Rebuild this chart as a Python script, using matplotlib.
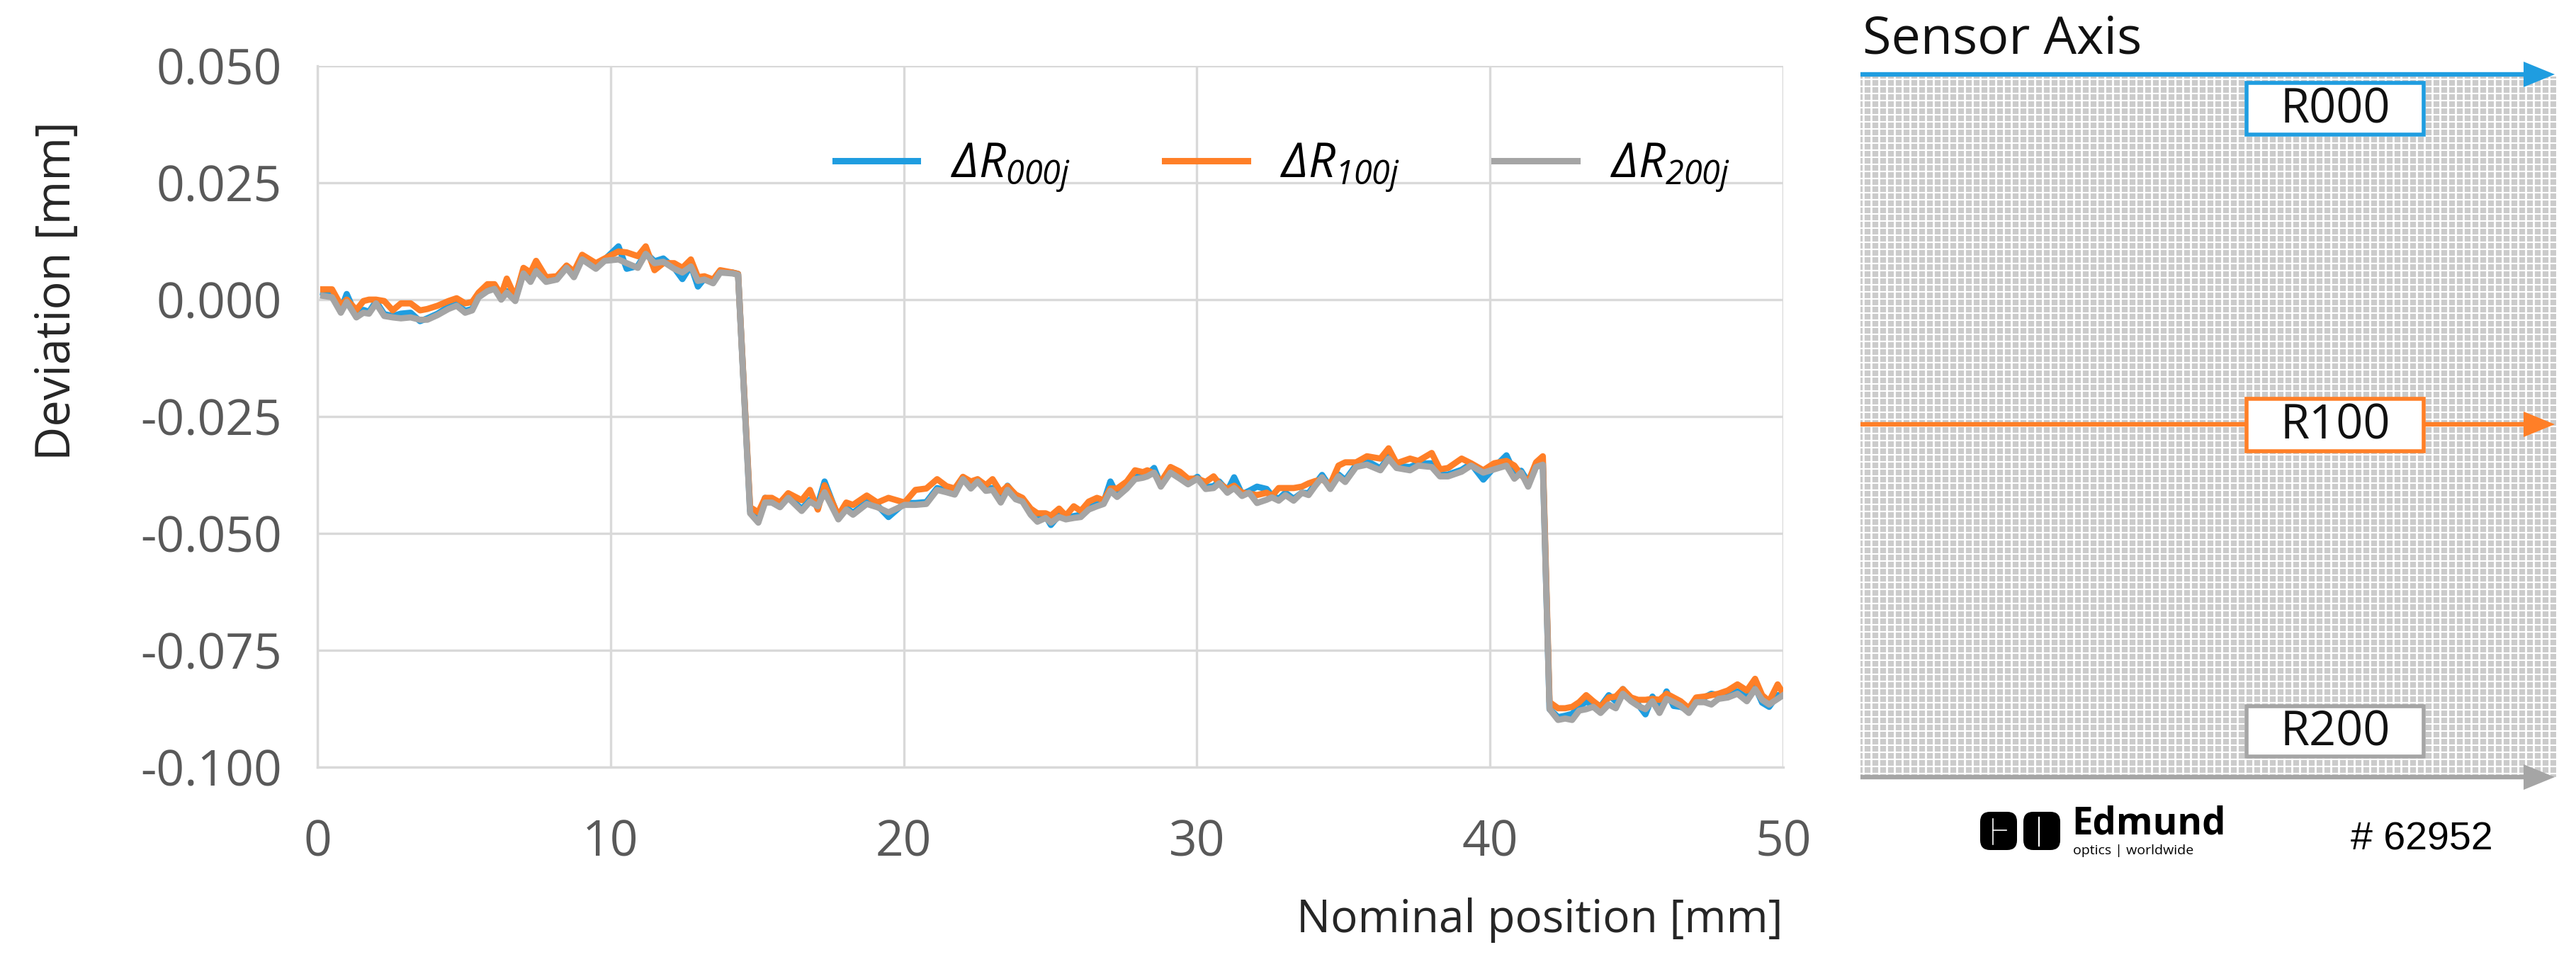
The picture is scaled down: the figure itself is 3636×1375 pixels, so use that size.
import numpy as np
import matplotlib
matplotlib.use("Agg")
import matplotlib.pyplot as plt
from matplotlib.patches import Rectangle, Polygon, FancyBboxPatch
from matplotlib.ticker import FuncFormatter

plt.rcParams["font.family"] = ["Open Sans", "DejaVu Sans"]
# only the legend labels use mathtext, and they are italic throughout
plt.rcParams["mathtext.fontset"] = "custom"
plt.rcParams["mathtext.it"] = "Open Sans:italic"
plt.rcParams["mathtext.rm"] = "Open Sans:italic"

# nominal position [mm], shared by the three traces
pos = [0.2, 0.5, 0.8, 1.0, 1.33, 1.57, 1.76, 2.0, 2.28, 2.57,
       2.85, 3.18, 3.5, 3.75, 4.1, 4.47, 4.75, 5.04, 5.28, 5.5,
       5.8, 6.04, 6.27, 6.46, 6.75, 7.03, 7.27, 7.46, 7.8, 8.17,
       8.5, 8.75, 9.03, 9.5, 9.8, 10.27, 10.55, 10.93, 11.2, 11.5,
       11.8, 12.17, 12.45, 12.74, 12.98, 13.2, 13.5, 13.74, 14.16, 14.35,
       14.76, 15.04, 15.27, 15.5, 15.78, 16.06, 16.52, 16.8, 17.07, 17.3,
       17.77, 18.04, 18.27, 18.74, 19.1, 19.48, 20.03, 20.4, 20.77, 21.14,
       21.46, 21.74, 22.02, 22.29, 22.52, 22.8, 23.03, 23.31, 23.54, 23.82,
       24.05, 24.33, 24.56, 24.84, 25.02, 25.3, 25.53, 25.8, 26.04, 26.31,
       26.59, 26.82, 27.05, 27.28, 27.61, 27.89, 28.16, 28.31, 28.54, 28.77,
       29.1, 29.42, 29.7, 30.02, 30.3, 30.57, 30.76, 31.04, 31.27, 31.54,
       31.78, 32.05, 32.38, 32.56, 32.79, 33.02, 33.3, 33.58, 33.81, 34.04,
       34.27, 34.55, 34.83, 35.06, 35.43, 35.8, 36.26, 36.54, 36.81, 37.27,
       37.55, 38.01, 38.29, 38.57, 39.03, 39.35, 39.77, 40.14, 40.56, 40.83,
       41.06, 41.3, 41.57, 41.8, 42.03, 42.32, 42.56, 42.8, 43.04, 43.28,
       43.52, 43.77, 44.05, 44.29, 44.53, 44.81, 45.05, 45.3, 45.54, 45.78,
       46.02, 46.26, 46.5, 46.78, 47.03, 47.31, 47.55, 47.79, 48.11, 48.44,
       48.76, 49.04, 49.28, 49.52, 49.81, 50.0]

# deviation [mm]
dev_r000 = [0.0015, 0.0012, -0.0022, 0.0012, -0.0035, -0.0022, -0.0026, -0.0004, -0.0031, -0.0035,
            -0.0030, -0.0028, -0.0046, -0.0040, -0.0030, -0.0015, -0.0010, -0.0024, -0.0020, 0.0008,
            0.0022, 0.0026, 0.0004, 0.0018, 0.0002, 0.0060, 0.0042, 0.0064, 0.0042, 0.0046,
            0.0070, 0.0052, 0.0090, 0.0070, 0.0086, 0.0114, 0.0066, 0.0072, 0.0100, 0.0082,
            0.0088, 0.0068, 0.0044, 0.0073, 0.0028, 0.0045, 0.0042, 0.0060, 0.0058, 0.0055,
            -0.0452, -0.0470, -0.0424, -0.0430, -0.0440, -0.0420, -0.0448, -0.0428, -0.0438, -0.0389,
            -0.0466, -0.0445, -0.0456, -0.0433, -0.0440, -0.0465, -0.0435, -0.0435, -0.0433, -0.0403,
            -0.0408, -0.0413, -0.0380, -0.0400, -0.0385, -0.0405, -0.0403, -0.0430, -0.0398, -0.0420,
            -0.0428, -0.0456, -0.0471, -0.0463, -0.0482, -0.0461, -0.0466, -0.0463, -0.0460, -0.0440,
            -0.0438, -0.0433, -0.0389, -0.0418, -0.0400, -0.0380, -0.0377, -0.0374, -0.0360, -0.0396,
            -0.0366, -0.0379, -0.0391, -0.0379, -0.0401, -0.0399, -0.0389, -0.0409, -0.0380, -0.0416,
            -0.0409, -0.0400, -0.0405, -0.0419, -0.0426, -0.0413, -0.0426, -0.0413, -0.0414, -0.0394,
            -0.0375, -0.0401, -0.0374, -0.0386, -0.0354, -0.0345, -0.0361, -0.0336, -0.0356, -0.0358,
            -0.0351, -0.0350, -0.0374, -0.0374, -0.0364, -0.0351, -0.0385, -0.0359, -0.0333, -0.0370,
            -0.0366, -0.0390, -0.0354, -0.0349, -0.0876, -0.0893, -0.0890, -0.0886, -0.0870, -0.0860,
            -0.0866, -0.0870, -0.0846, -0.0859, -0.0833, -0.0856, -0.0866, -0.0887, -0.0849, -0.0876,
            -0.0838, -0.0869, -0.0871, -0.0879, -0.0856, -0.0851, -0.0843, -0.0846, -0.0846, -0.0838,
            -0.0851, -0.0828, -0.0862, -0.0871, -0.0846, -0.0846]

dev_r100 = [0.0022, 0.0022, -0.0012, 0.0000, -0.0022, -0.0003, 0.0000, 0.0000, -0.0003, -0.0023,
            -0.0008, -0.0008, -0.0023, -0.0020, -0.0013, -0.0003, 0.0003, -0.0008, -0.0005, 0.0015,
            0.0033, 0.0033, 0.0010, 0.0045, 0.0005, 0.0068, 0.0058, 0.0083, 0.0048, 0.0050,
            0.0073, 0.0060, 0.0096, 0.0078, 0.0088, 0.0103, 0.0101, 0.0093, 0.0114, 0.0063,
            0.0078, 0.0078, 0.0068, 0.0086, 0.0048, 0.0050, 0.0043, 0.0063, 0.0058, 0.0055,
            -0.0444, -0.0455, -0.0424, -0.0424, -0.0434, -0.0414, -0.0429, -0.0407, -0.0449, -0.0397,
            -0.0462, -0.0434, -0.0439, -0.0419, -0.0434, -0.0424, -0.0434, -0.0407, -0.0404, -0.0384,
            -0.0399, -0.0404, -0.0379, -0.0389, -0.0384, -0.0397, -0.0384, -0.0412, -0.0399, -0.0417,
            -0.0424, -0.0447, -0.0457, -0.0457, -0.0462, -0.0447, -0.0462, -0.0442, -0.0452, -0.0432,
            -0.0424, -0.0429, -0.0404, -0.0404, -0.0389, -0.0365, -0.0369, -0.0365, -0.0372, -0.0390,
            -0.0358, -0.0368, -0.0383, -0.0383, -0.0390, -0.0378, -0.0393, -0.0405, -0.0398, -0.0413,
            -0.0415, -0.0418, -0.0413, -0.0420, -0.0403, -0.0403, -0.0403, -0.0400, -0.0393, -0.0388,
            -0.0385, -0.0395, -0.0355, -0.0348, -0.0348, -0.0335, -0.0340, -0.0318, -0.0350, -0.0340,
            -0.0345, -0.0328, -0.0363, -0.0360, -0.0340, -0.0350, -0.0365, -0.0350, -0.0345, -0.0355,
            -0.0375, -0.0390, -0.0348, -0.0335, -0.0861, -0.0874, -0.0874, -0.0871, -0.0861, -0.0846,
            -0.0859, -0.0871, -0.0851, -0.0849, -0.0833, -0.0851, -0.0856, -0.0856, -0.0854, -0.0856,
            -0.0843, -0.0851, -0.0859, -0.0874, -0.0851, -0.0849, -0.0846, -0.0843, -0.0836, -0.0823,
            -0.0836, -0.0811, -0.0846, -0.0859, -0.0823, -0.0843]

dev_r200 = [0.0008, 0.0005, -0.0028, -0.0005, -0.0038, -0.0028, -0.0030, -0.0008, -0.0035, -0.0038,
            -0.0040, -0.0038, -0.0043, -0.0043, -0.0033, -0.0020, -0.0013, -0.0028, -0.0023, 0.0005,
            0.0018, 0.0023, 0.0000, 0.0015, -0.0003, 0.0056, 0.0038, 0.0061, 0.0038, 0.0043,
            0.0068, 0.0048, 0.0086, 0.0066, 0.0083, 0.0086, 0.0078, 0.0068, 0.0098, 0.0078,
            0.0081, 0.0066, 0.0058, 0.0071, 0.0040, 0.0043, 0.0035, 0.0058, 0.0056, 0.0053,
            -0.0457, -0.0477, -0.0434, -0.0434, -0.0444, -0.0424, -0.0452, -0.0432, -0.0442, -0.0412,
            -0.0470, -0.0449, -0.0460, -0.0437, -0.0444, -0.0455, -0.0439, -0.0439, -0.0437, -0.0407,
            -0.0412, -0.0417, -0.0384, -0.0404, -0.0389, -0.0409, -0.0407, -0.0434, -0.0407, -0.0427,
            -0.0432, -0.0460, -0.0475, -0.0467, -0.0477, -0.0465, -0.0470, -0.0467, -0.0465, -0.0449,
            -0.0442, -0.0437, -0.0409, -0.0422, -0.0404, -0.0384, -0.0381, -0.0378, -0.0370, -0.0400,
            -0.0370, -0.0383, -0.0395, -0.0383, -0.0405, -0.0403, -0.0393, -0.0413, -0.0403, -0.0420,
            -0.0413, -0.0435, -0.0428, -0.0423, -0.0430, -0.0418, -0.0430, -0.0413, -0.0418, -0.0398,
            -0.0380, -0.0405, -0.0378, -0.0390, -0.0358, -0.0353, -0.0365, -0.0340, -0.0360, -0.0365,
            -0.0355, -0.0358, -0.0378, -0.0378, -0.0368, -0.0355, -0.0370, -0.0363, -0.0355, -0.0383,
            -0.0370, -0.0400, -0.0358, -0.0353, -0.0876, -0.0899, -0.0896, -0.0899, -0.0879, -0.0876,
            -0.0871, -0.0884, -0.0866, -0.0874, -0.0843, -0.0859, -0.0869, -0.0876, -0.0859, -0.0884,
            -0.0854, -0.0861, -0.0869, -0.0884, -0.0861, -0.0861, -0.0866, -0.0854, -0.0851, -0.0843,
            -0.0859, -0.0833, -0.0856, -0.0866, -0.0854, -0.0846]

series = [
    (dev_r000, r"$ΔR_{000j}$", "#1f9de0"),
    (dev_r100, r"$ΔR_{100j}$", "#ff7f27"),
    (dev_r200, r"$ΔR_{200j}$", "#a5a5a5"),
]
x_ticks = [0, 10, 20, 30, 40, 50]
y_ticks = [-0.100, -0.075, -0.050, -0.025, 0.000, 0.025, 0.050]

sensor_rows = [("R000", "#1f9de0"), ("R100", "#ff7f27"), ("R200", "#a5a5a5")]

W, H = 3637, 1375
fig = plt.figure(figsize=(W / 100, H / 100), dpi=100)
ax = fig.add_axes([448 / W, 1 - 1083 / H, 2069 / W, 990 / H])

grid_c = "#d9d9d9"
for vals, lab, col in series:
    ax.plot(pos, vals, color=col, lw=6.3, label=lab, solid_joinstyle="round")

ax.set_xlim(0, 50)
ax.set_ylim(-0.1, 0.05)
ax.set_xticks(x_ticks)
ax.set_yticks(y_ticks)
ax.yaxis.set_major_formatter(FuncFormatter(lambda v, _: f"{v:.3f}"))
ax.grid(True, color=grid_c, lw=2.4)
ax.set_axisbelow(True)
for s in ("top", "right"):
    ax.spines[s].set_visible(False)
for s in ("left", "bottom"):
    ax.spines[s].set_color(grid_c)
    ax.spines[s].set_linewidth(2.4)
ax.tick_params(axis="both", length=0, labelsize=50, labelcolor="#595959")
ax.tick_params(axis="y", pad=36)
ax.tick_params(axis="x", pad=52)

leg = ax.legend(loc="center left", bbox_to_anchor=(0.337, 0.855), ncol=3,
                frameon=False, fontsize=48, handlelength=1.75, handletextpad=0.7,
                columnspacing=2.0, borderpad=0)
for ln in leg.get_lines():
    ln.set_linewidth(6.5)

fig.text(81 / W, 1 - 411 / H, "Deviation [mm]", rotation=90, ha="center",
         va="center", fontsize=48, color="#262626")
fig.text(2517 / W, 1 - 1299 / H, "Nominal position [mm]", ha="right",
         va="center", fontsize=46, color="#262626")

# right panel: sensor schematic, drawn in pixel coordinates
ov = fig.add_axes([0, 0, 1, 1])
ov.set_xlim(0, W)
ov.set_ylim(H, 0)
ov.axis("off")

x0, x1 = 2626, 3608
ov.add_patch(Rectangle((x0, 108), x1 - x0, 1097 - 108, facecolor="#cbcbcb",
                       edgecolor="none", zorder=1))
ov.hlines(np.arange(112, 1097, 10), x0, x1, color="white", lw=1.5, zorder=2)
ov.vlines(np.arange(x0 + 4, x1, 11), 108, 1097, color="white", lw=2.0, zorder=2)

ov.text(2629, 75, "Sensor Axis", fontsize=53, color="#111111", va="baseline",
        ha="left")

arrow_y = [105, 599, 1097]
box_y = [(117, 190), (563, 637), (997, 1068)]
for (lab, col), ay, (b0, b1) in zip(sensor_rows, arrow_y, box_y):
    ov.plot([x0, 3570], [ay, ay], color=col, lw=4.6, solid_capstyle="butt", zorder=3)
    ov.add_patch(Polygon([[3562, ay - 18], [3562, ay + 18], [3606, ay]],
                         closed=True, facecolor=col, edgecolor="none", zorder=3))
    ov.add_patch(Rectangle((3171, b0), 250, b1 - b0, facecolor="white",
                           edgecolor=col, lw=4.0, zorder=4))
    ov.text(3296, (b0 + b1) / 2 + 2, lab, fontsize=48, ha="center", va="center",
            color="#111111", zorder=5)

# Edmund optics logo and part number
for bx in (2795, 2856):
    ov.add_patch(FancyBboxPatch((bx, 1146), 52, 54, boxstyle="round,pad=0,rounding_size=14",
                                facecolor="black", edgecolor="none", zorder=3))
ov.plot([2813, 2813], [1156, 1192], color="white", lw=1.2, zorder=4)
ov.plot([2813, 2832], [1172, 1172], color="white", lw=1.2, zorder=4)
ov.plot([2878, 2878], [1154, 1194], color="white", lw=1.6, zorder=4)
ov.text(2924, 1178, "Edmund", fontsize=38, fontweight="bold", ha="left",
        va="baseline", color="black")
ov.text(2926, 1206, "optics | worldwide", fontsize=14, ha="left", va="baseline",
        color="black")
ov.text(3318, 1199, "# 62952", fontsize=40, ha="left", va="baseline",
        color="black", family="Liberation Sans")

fig.savefig("out.png", dpi=100)
